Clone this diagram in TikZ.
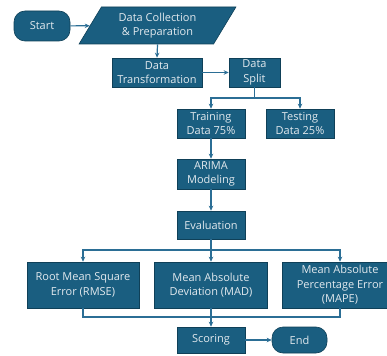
\documentclass[tikz,border=0pt]{standalone}
\usepackage{fontspec}
\setmainfont{Open Sans}
\usetikzlibrary{shapes.geometric,arrows.meta}

\definecolor{boxfill}{HTML}{1A5E80}
\definecolor{boxline}{HTML}{0F4058}
\definecolor{boxtext}{HTML}{E2E9EE}
\definecolor{arrowcol}{HTML}{2B6E95}

\tikzset{
	procbox/.style={draw=boxline, fill=boxfill, text=boxtext, line width=0.6pt,
		align=center, inner sep=1pt, font=\fontsize{11}{14.5}\selectfont},
	termbox/.style={procbox, rounded corners=11pt},
	link/.style={draw=arrowcol, line width=1.2pt},
	arrow/.style={link, -{Stealth[length=5pt,width=4.5pt]}}
}

\begin{document}
\begin{tikzpicture}[x=1pt,y=-1pt]
	\useasboundingbox (0,0) rectangle (387,355);
	
	% Start and data collection
	\node[termbox, minimum width=56, minimum height=30] (start) at (42,26) {Start};
	\node[procbox, trapezium, trapezium left angle=60, trapezium right angle=120,
		trapezium stretches=true, minimum width=157, minimum height=37] (collect) at (157.5,25.5)
		{Data Collection\\\& Preparation};
	\draw[arrow] (start) -- (collect);
	
	% Transformation and split
	\node[procbox, minimum width=90, minimum height=29] (transform) at (157,72.5) {Data\\Transformation};
	\node[procbox, minimum width=51, minimum height=29] (split) at (254.5,72.5) {Data\\Split};
	\draw[arrow] (collect.south) -- (transform.north);
	\draw[arrow] (transform) -- (split);
	
	% Training and testing data
	\node[procbox, minimum width=68, minimum height=29] (train) at (211,123.5) {Training\\Data 75\%};
	\node[procbox, minimum width=68, minimum height=29] (test) at (300,123.5) {Testing\\Data 25\%};
	\coordinate (splitfork) at (254.5,98);
	\draw[link] (split.south) -- (splitfork);
	\draw[arrow] (splitfork) -| (train.north);
	\draw[arrow] (splitfork) -| (test.north);
	
	% Modeling and evaluation
	\node[procbox, minimum width=68, minimum height=30] (arima) at (211,174) {ARIMA\\Modeling};
	\node[procbox, minimum width=68, minimum height=28] (eval) at (211,225) {Evaluation};
	\draw[arrow] (train) -- (arima);
	\draw[arrow] (arima) -- (eval);
	
	% Error measures
	\node[procbox, minimum width=112, minimum height=46] (rmse) at (83,285) {Root Mean Square\\Error (RMSE)};
	\node[procbox, minimum width=113, minimum height=46] (mad) at (211,285) {Mean Absolute\\Deviation (MAD)};
	\node[procbox, minimum width=116, minimum height=46] (mape) at (340,285) {Mean Absolute\\Percentage Error\\(MAPE)};
	\coordinate (evalfork) at (211,250);
	\draw[link] (eval.south) -- (evalfork);
	\draw[arrow] (evalfork) -| (rmse.north);
	\draw[arrow] (evalfork) -- (mad.north);
	\draw[arrow] (evalfork) -| (mape.north);
	
	% Scoring and end
	\node[procbox, minimum width=68, minimum height=26] (scoring) at (211,340) {Scoring};
	\node[termbox, minimum width=55, minimum height=26] (end) at (299.5,340) {End};
	\coordinate (merge) at (211,317);
	\draw[link] (rmse.south) |- (merge);
	\draw[link] (mape.south) |- (merge);
	\draw[arrow] (mad.south) -- (scoring.north);
	\draw[arrow] (scoring) -- (end);
\end{tikzpicture}
\end{document}
